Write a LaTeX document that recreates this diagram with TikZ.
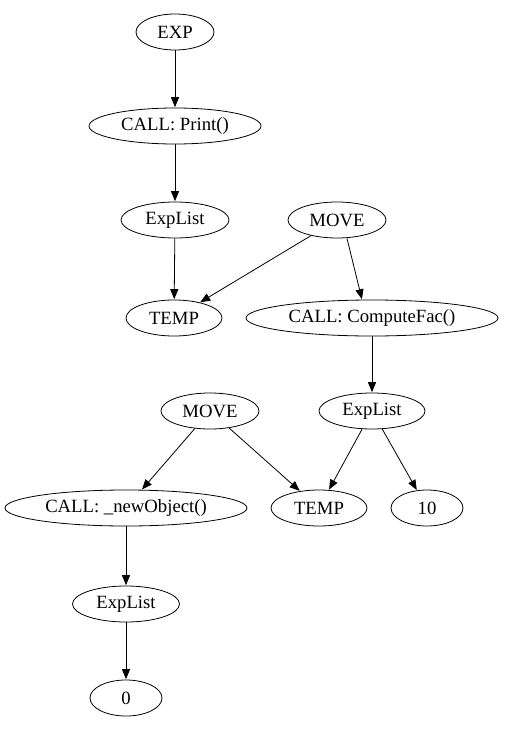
\documentclass[tikz,border=0pt]{standalone}
\usepackage{fontspec}
\setmainfont{Liberation Serif}
\usetikzlibrary{shapes.geometric,arrows.meta}
\tikzset{
  tree/.style={draw,ellipse,inner sep=0pt,minimum height=36pt,font=\fontsize{18.7}{21}\selectfont},
  edge/.style={-{Triangle[length=10pt,width=8pt]},shorten >=0.4pt}
}
\begin{document}
\begin{tikzpicture}[x=1pt,y=-1pt,line width=0.8pt]
\useasboundingbox (0,0) rectangle (504,731);
\node[tree,minimum width=78pt] (exp) at (175,32) {EXP};
\node[tree,minimum width=172pt] (print) at (175,126) {CALL: Print()};
\node[tree,minimum width=108pt] (list1) at (175,220) {ExpList};
\node[tree,minimum width=98pt] (move1) at (337,220) {MOVE};
\node[tree,minimum width=96pt] (temp1) at (174,318) {TEMP};
\node[tree,minimum width=252pt] (fac) at (372,318) {CALL: ComputeFac()};
\node[tree,minimum width=98pt] (move2) at (210,411) {MOVE};
\node[tree,minimum width=106pt] (list2) at (372,411) {ExpList};
\node[tree,minimum width=242pt] (newobj) at (126,508) {CALL: \_newObject()};
\node[tree,minimum width=96pt] (temp2) at (319,508) {TEMP};
\node[tree,minimum width=72pt] (ten) at (427,508) {10};
\node[tree,minimum width=107pt] (list3) at (126,604) {ExpList};
\node[tree,minimum width=72pt] (zero) at (126,698) {0};
\draw[edge] (exp) -- (print);
\draw[edge] (print) -- (list1);
\draw[edge] (list1) -- (temp1);
\draw[edge] (move1) -- (temp1);
\draw[edge] (move1.south) ++(10,0) -- (fac.north -| 362,0);
\draw[edge] (fac) -- (list2);
\draw[edge] (list2) -- (temp2);
\draw[edge] (list2) -- (ten);
\draw[edge] (move2) -- (newobj);
\draw[edge] (move2) -- (temp2);
\draw[edge] (newobj) -- (list3);
\draw[edge] (list3) -- (zero);
\end{tikzpicture}
\end{document}
